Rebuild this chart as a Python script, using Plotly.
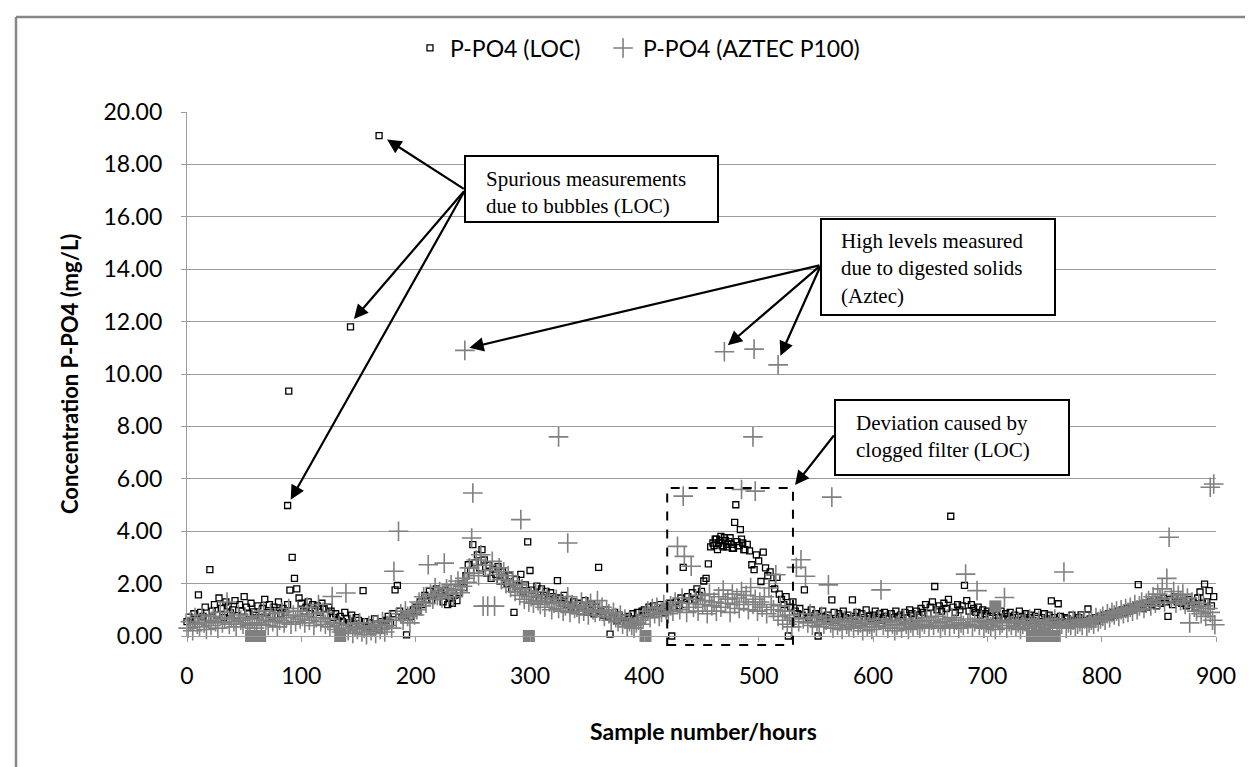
import plotly.graph_objects as go

# ---------------- data ----------------
loc_hours = list(range(0, 900, 2))
loc_values = [
    0.55, 0.72, 0.40, 0.85, 0.62, 1.57, 0.90, 0.75, 1.10, 0.68,
    2.53, 0.95, 1.20, 0.80, 1.45, 1.05, 0.70, 1.30, 1.15, 0.88,
    1.00, 1.35, 0.78, 1.20, 0.95, 1.50, 1.10, 0.85, 1.25, 0.92,
    0.80, 1.15, 0.70, 1.05, 1.40, 0.90, 1.20, 0.75, 1.10, 0.98,
    1.30, 0.85, 1.05, 0.90, 1.20, 1.75, 3.00, 2.20, 1.80, 1.45,
    1.25, 0.95, 1.10, 1.30, 0.85, 1.20, 1.00, 1.15, 0.90, 1.25,
    1.05, 0.80, 1.10, 0.95, 0.70, 0.85, 0.60, 0.75, 0.55, 0.90,
    0.65, 0.50, 0.80, 0.45, 0.70, 0.60, 0.40, 1.73, 0.55, 0.35,
    0.50, 0.30, 0.65, 0.45, 0.25, 0.55, 0.40, 0.60, 0.75, 0.50,
    0.85, 1.76, 1.93, 0.95, 0.70, 0.80, 0.04, 0.90, 0.75, 1.00,
    1.10, 0.95, 1.30, 1.20, 1.55, 1.40, 1.70, 1.35, 1.60, 1.80,
    1.50, 1.65, 1.30, 1.75, 1.20, 1.45, 1.25, 1.55, 1.35, 1.65,
    2.00, 1.85, 2.30, 2.72, 2.50, 3.49, 2.80, 3.10, 2.60, 3.30,
    2.90, 2.40, 2.70, 2.20, 2.55, 2.35, 2.65, 2.10, 2.45, 2.25,
    2.00, 2.30, 1.80, 0.90, 2.15, 1.90, 2.35, 1.70, 1.95, 3.59,
    2.50, 1.75, 1.60, 1.90, 1.45, 1.80, 1.55, 1.70, 1.40, 1.65,
    1.50, 1.35, 2.11, 1.45, 1.25, 1.55, 1.20, 1.40, 1.10, 1.30,
    1.00, 1.25, 0.95, 1.15, 1.35, 0.90, 1.05, 1.20, 0.85, 1.10,
    2.62, 0.95, 0.80, 1.00, 0.75, 0.07, 0.70, 0.90, 0.60, 0.80,
    0.55, 0.70, 0.50, 0.75, 0.65, 0.85, 0.60, 0.90, 0.70, 0.95,
    1.00, 0.85, 1.10, 0.90, 1.15, 1.00, 0.95, 1.20, 1.05, 0.90,
    1.10, 1.25, 0.00, 1.05, 1.30, 1.15, 1.45, 2.62, 1.20, 1.50,
    1.35, 1.65, 1.40, 1.80, 1.55, 1.70, 2.10, 2.20, 2.75, 3.40,
    3.55, 3.70, 3.30, 3.65, 3.45, 3.75, 3.40, 3.60, 3.50, 3.35,
    5.01, 3.45, 4.06, 3.55, 3.30, 3.50, 3.25, 2.72, 2.53, 3.10,
    2.87, 2.08, 3.20, 2.60, 2.30, 2.45, 2.00, 1.80, 2.24, 1.60,
    1.40, 1.20, 1.50, 0.00, 1.10, 1.30, 0.95, 0.85, 1.05, 0.80,
    1.76, 0.90, 0.70, 1.00, 0.65, 0.85, 0.00, 0.75, 0.95, 0.70,
    0.80, 0.65, 1.38, 0.90, 0.60, 0.85, 0.75, 0.95, 0.70, 0.80,
    0.65, 1.38, 0.75, 0.90, 0.60, 0.85, 0.70, 1.00, 0.75, 0.65,
    0.80, 0.95, 0.70, 0.85, 0.60, 0.90, 0.75, 0.65, 0.85, 0.70,
    0.95, 0.75, 0.80, 0.60, 0.90, 0.70, 1.00, 0.85, 0.65, 0.95,
    0.80, 1.05, 0.90, 1.20, 0.85, 1.10, 1.30, 1.89, 1.00, 1.15,
    0.95, 1.25, 1.05, 1.40, 4.57, 1.10, 0.90, 1.20, 1.00, 1.15,
    1.93, 1.35, 0.95, 1.20, 1.05, 0.90, 1.10, 0.80, 1.00, 0.85,
    0.95, 0.75, 0.90, 1.05, 0.80, 0.70, 0.95, 0.65, 0.85, 0.75,
    0.90, 0.70, 0.80, 0.60, 0.95, 0.75, 0.65, 0.85, 0.70, 0.80,
    0.60, 0.75, 0.90, 0.55, 0.70, 0.85, 0.65, 0.80, 1.34, 0.70,
    0.60, 1.23, 0.75, 0.55, 0.70, 0.65, 0.50, 0.80, 0.60, 0.55,
    0.70, 0.81, 0.60, 0.50, 1.03, 0.65, 0.55, 0.70, 0.60, 0.75,
    0.65, 0.80, 0.70, 0.85, 0.75, 0.90, 0.80, 0.95, 0.85, 1.00,
    0.90, 1.05, 0.95, 1.10, 1.00, 1.15, 1.96, 1.20, 1.05, 1.25,
    1.10, 1.30, 1.20, 1.40, 1.15, 1.35, 1.25, 1.45, 1.30, 0.75,
    1.40, 1.20, 1.50, 1.30, 1.45, 1.25, 1.35, 1.15, 1.40, 1.20,
    1.30, 1.10, 1.45, 1.68, 1.25, 1.98, 1.30, 1.73, 1.15, 1.50,
]
loc_extra_hours = [88, 89, 143, 168, 479,
                   461, 463, 465, 467, 469, 471, 473, 475, 477, 481, 483, 485, 487]
loc_extra_values = [4.98, 9.35, 11.80, 19.10, 4.34,
                    3.45, 3.70, 3.55, 3.80, 3.40, 3.65, 3.50, 3.75, 3.35, 3.60, 3.45, 3.70, 3.30]

aztec_hours = list(range(1, 900, 2))
aztec_values = [
    0.30, 0.55, 0.20, 0.70, 0.45, 0.35, 0.80, 0.50, 0.25, 0.60,
    0.40, 0.75, 0.55, 0.30, 0.90, 0.50, 0.65, 1.30, 0.45, 0.70,
    0.55, 0.35, 0.80, 0.60, 0.45, 0.70, 0.50, 0.40, 0.65, 0.30,
    0.50, 0.75, 0.45, 0.95, 0.60, 0.40, 0.85, 0.55, 0.70, 0.35,
    0.60, 0.90, 0.50, 0.70, 1.05, 0.45, 0.80, 0.55, 0.95, 0.65,
    0.75, 0.50, 1.10, 0.60, 0.85, 0.40, 0.70, 1.20, 0.55, 0.90,
    0.45, 0.65, 0.35, 1.51, 0.50, 0.25, 0.40, 0.15, 0.30, 1.64,
    0.20, 0.45, 0.10, 0.35, 0.25, 0.50, 0.15, 0.30, 0.05, 0.40,
    0.20, 0.35, 0.10, 0.45, 0.25, 0.55, 0.15, 0.40, 0.60, 0.30,
    2.47, 0.70, 4.00, 0.85, 0.60, 0.95, 0.75, 0.50, 0.90, 0.80,
    1.00, 1.30, 1.15, 1.50, 1.25, 2.72, 1.60, 1.40, 1.85, 1.55,
    1.70, 1.45, 2.78, 1.80, 1.60, 1.95, 1.50, 1.75, 2.10, 1.65,
    1.90, 2.20, 2.05, 2.60, 3.74, 2.40, 2.90, 2.30, 3.10, 1.14,
    2.70, 1.14, 2.50, 2.85, 1.14, 2.35, 2.60, 2.15, 2.45, 2.00,
    2.30, 1.85, 2.10, 1.70, 1.95, 1.55, 1.80, 1.40, 1.65, 1.30,
    1.50, 1.25, 1.70, 1.35, 1.20, 1.55, 1.10, 1.45, 1.30, 1.00,
    1.25, 1.40, 1.05, 1.30, 0.95, 1.15, 1.50, 0.90, 1.20, 1.05,
    1.10, 0.85, 1.30, 0.95, 1.15, 0.80, 1.25, 1.00, 0.90, 1.35,
    0.95, 1.10, 0.75, 1.00, 0.85, 0.60, 0.90, 0.70, 0.55, 0.80,
    0.45, 0.65, 0.35, 0.55, 0.40, 0.30, 0.50, 0.60, 0.45, 0.70,
    0.80, 0.95, 0.70, 1.05, 0.85, 1.10, 0.75, 0.90, 1.20, 1.00,
    0.85, 1.15, 0.95, 1.30, 3.42, 1.00, 1.45, 3.04, 0.90, 1.25,
    2.66, 1.10, 1.40, 0.95, 1.55, 1.20, 1.35, 0.85, 1.60, 1.15,
    1.30, 0.95, 1.50, 1.10, 1.75, 1.25, 1.40, 0.90, 1.60, 1.20,
    1.45, 1.05, 1.70, 1.30, 1.55, 1.00, 1.85, 1.20, 1.40, 0.95,
    1.30, 1.10, 1.50, 0.85, 1.83, 1.20, 1.00, 2.34, 0.75, 1.15,
    0.60, 0.95, 0.45, 0.80, 0.35, 0.70, 2.62, 0.55, 2.91, 0.65,
    2.28, 0.50, 0.85, 0.40, 0.70, 0.55, 0.35, 0.75, 0.45, 0.60,
    1.95, 0.50, 0.30, 0.65, 0.40, 0.55, 0.25, 0.60, 0.45, 0.35,
    0.55, 0.30, 0.70, 0.40, 0.50, 0.20, 0.60, 0.35, 0.45, 0.25,
    0.50, 0.35, 0.65, 1.76, 0.40, 0.55, 0.30, 0.60, 0.45, 0.20,
    0.40, 0.55, 0.30, 0.65, 0.45, 0.25, 0.50, 0.35, 0.60, 0.40,
    0.30, 0.55, 0.45, 0.70, 0.35, 0.60, 0.40, 0.75, 0.50, 0.30,
    0.55, 0.40, 0.65, 0.35, 0.70, 0.45, 0.60, 0.30, 0.50, 0.40,
    2.36, 0.45, 0.65, 0.35, 0.55, 1.73, 0.40, 0.60, 0.30, 0.50,
    0.45, 0.35, 0.55, 0.25, 0.60, 0.40, 0.50, 1.47, 0.30, 0.55,
    0.40, 0.60, 0.35, 0.50, 0.25, 0.45, 0.55, 0.30, 0.65, 0.40,
    0.50, 0.35, 0.60, 0.25, 0.45, 0.55, 0.30, 0.50, 0.40, 0.65,
    0.35, 0.55, 0.45, 2.44, 0.30, 0.50, 0.40, 0.60, 0.35, 0.45,
    0.55, 0.40, 0.65, 0.35, 0.50, 0.60, 0.45, 0.70, 0.55, 0.65,
    0.75, 0.60, 0.85, 0.70, 0.90, 0.80, 0.95, 0.75, 1.00, 0.85,
    1.05, 0.90, 1.10, 0.95, 1.20, 1.00, 1.15, 1.30, 1.05, 1.25,
    1.35, 1.15, 1.50, 1.25, 1.60, 1.40, 1.80, 1.30, 2.20, 3.77,
    1.45, 1.70, 1.25, 1.55, 1.35, 1.60, 1.20, 1.45, 0.50, 1.30,
    1.10, 0.95, 1.25, 0.85, 1.15, 0.75, 1.05, 0.90, 0.60, 0.43,
]
aztec_extra_hours = [243, 250, 292, 325, 333, 434, 470, 485, 495, 496, 497, 517, 564, 895, 898]
aztec_extra_values = [10.90, 5.46, 4.44, 7.60, 3.55, 5.34, 10.85, 5.59, 7.60, 10.95, 5.53, 10.35, 5.30, 5.68, 5.80]

zero_hours = [56, 58, 60, 62, 64, 134, 299, 401, 707, 739, 744, 749, 754, 759]
zero_values = [0, 0, 0, 0, 0, 0, 0, 0, 1.13, 0, 0, 0, 0, 0]

# ---------------- figure ----------------
W, H = 1253, 767
L, R, T, B = 179, 45, 104, 139
PW, PH = W - L - R, H - T - B


def px(xp):
    return (xp - L) / PW


def py(yp):
    return (H - B - yp) / PH


FONT = "Lato"
SERIF = "Liberation Serif"
GRID = "#9c9c9c"
NBSP = "\u00a0"

fig = go.Figure()
fig.add_trace(go.Scatter(
    x=loc_hours + loc_extra_hours, y=loc_values + loc_extra_values,
    mode="markers", name="P-PO4 (LOC)" + NBSP * 3, cliponaxis=False,
    marker=dict(symbol="square-open", size=6, color="black", line=dict(width=1.3, color="black")),
))
fig.add_trace(go.Scatter(
    x=aztec_hours + aztec_extra_hours, y=aztec_values + aztec_extra_values,
    mode="markers", name="P-PO4 (AZTEC P100)", cliponaxis=False,
    marker=dict(symbol="cross-thin", size=14, color="#808080", line=dict(width=1.6, color="#808080")),
))
fig.add_trace(go.Scatter(
    x=zero_hours, y=zero_values, mode="markers", showlegend=False, cliponaxis=False,
    marker=dict(symbol="square", size=12, color="#808080"),
))

shapes = []
# chart border (left + top)
shapes.append(dict(type="line", xref="paper", yref="paper", x0=px(8), x1=px(1260), y0=py(9), y1=py(9),
                   line=dict(color="#878787", width=2.5)))
shapes.append(dict(type="line", xref="paper", yref="paper", x0=px(8), x1=px(8), y0=py(9), y1=py(780),
                   line=dict(color="#878787", width=2.5)))
# dashed region
shapes.append(dict(type="rect", xref="x", yref="paper", x0=420, x1=530, y0=-0.34 / 20, y1=5.65 / 20,
                   line=dict(color="black", width=2, dash="dash"), layer="above"))
# text boxes
for (x0, y0, x1, y1) in [(457, 148, 710, 214), (813, 211, 1047, 307), (827, 392, 1061, 467)]:
    shapes.append(dict(type="rect", xref="paper", yref="paper", x0=px(x0), x1=px(x1), y0=py(y1), y1=py(y0),
                       line=dict(color="black", width=2), fillcolor="white", layer="above"))

annotations = []
texts = [
    (476, 157, "Spurious measurements<br>due to bubbles (LOC)"),
    (831, 219, "High levels measured<br>due to digested solids<br>(Aztec)"),
    (846, 401, "Deviation caused by<br>clogged filter (LOC)"),
]
for xp, yp, t in texts:
    annotations.append(dict(xref="paper", yref="paper", x=px(xp), y=py(yp), xanchor="left", yanchor="top",
                            text=t, showarrow=False, align="left",
                            font=dict(family=SERIF, size=21, color="black")))

arrow = dict(xref="x", yref="y", axref="x", ayref="y", text="", showarrow=True,
             arrowhead=2, arrowsize=1.3, arrowwidth=2.2, arrowcolor="black")
# spurious
sp_tail = (243.4, 17.03)
for tip in [(90.7, 5.2), (146, 12.1), (175, 18.95)]:
    annotations.append(dict(arrow, x=tip[0], y=tip[1], ax=sp_tail[0], ay=sp_tail[1]))
# high levels
hl_tail = (554.5, 14.16)
for tip in [(247, 11.0), (473, 11.1), (519, 10.7)]:
    annotations.append(dict(arrow, x=tip[0], y=tip[1], ax=hl_tail[0], ay=hl_tail[1]))
# deviation
annotations.append(dict(arrow, x=531.8, y=5.76, ax=566.8, ay=7.71))

# axis titles
annotations.append(dict(xref="paper", yref="paper", x=px(61), y=0.5, text="<b>Concentration P-PO4 (mg/L)</b>",
                        textangle=-90, showarrow=False, xanchor="center", yanchor="middle",
                        font=dict(family=FONT, size=22, color="black")))
annotations.append(dict(xref="paper", yref="paper", x=px(695), y=py(723), text="<b>Sample number/hours</b>",
                        showarrow=False, xanchor="center", yanchor="middle",
                        font=dict(family=FONT, size=23, color="black")))

fig.update_layout(
    width=W, height=H, margin=dict(l=L, r=R, t=T, b=B),
    paper_bgcolor="white", plot_bgcolor="white",
    shapes=shapes, annotations=annotations,
    showlegend=True,
    legend=dict(orientation="h", x=px(402), y=py(40), xanchor="left", yanchor="middle",
                font=dict(family=FONT, size=23, color="black"), bgcolor="rgba(0,0,0,0)"),
    xaxis=dict(range=[0, 900], tick0=0, dtick=100, showgrid=False, zeroline=False,
               showline=True, linecolor=GRID, linewidth=1.3,
               ticks="outside", ticklen=5, tickcolor=GRID, ticklabelstandoff=14,
               tickfont=dict(family=FONT, size=23, color="black")),
    yaxis=dict(range=[0, 20], tick0=0, dtick=2, tickformat=".2f", showgrid=True, gridcolor=GRID, gridwidth=1.3,
               zeroline=False, showline=True, linecolor=GRID, linewidth=1.3,
               ticks="outside", ticklen=5, tickcolor=GRID, ticklabelstandoff=14,
               tickfont=dict(family=FONT, size=23, color="black")),
)

fig.write_html("out.html")
